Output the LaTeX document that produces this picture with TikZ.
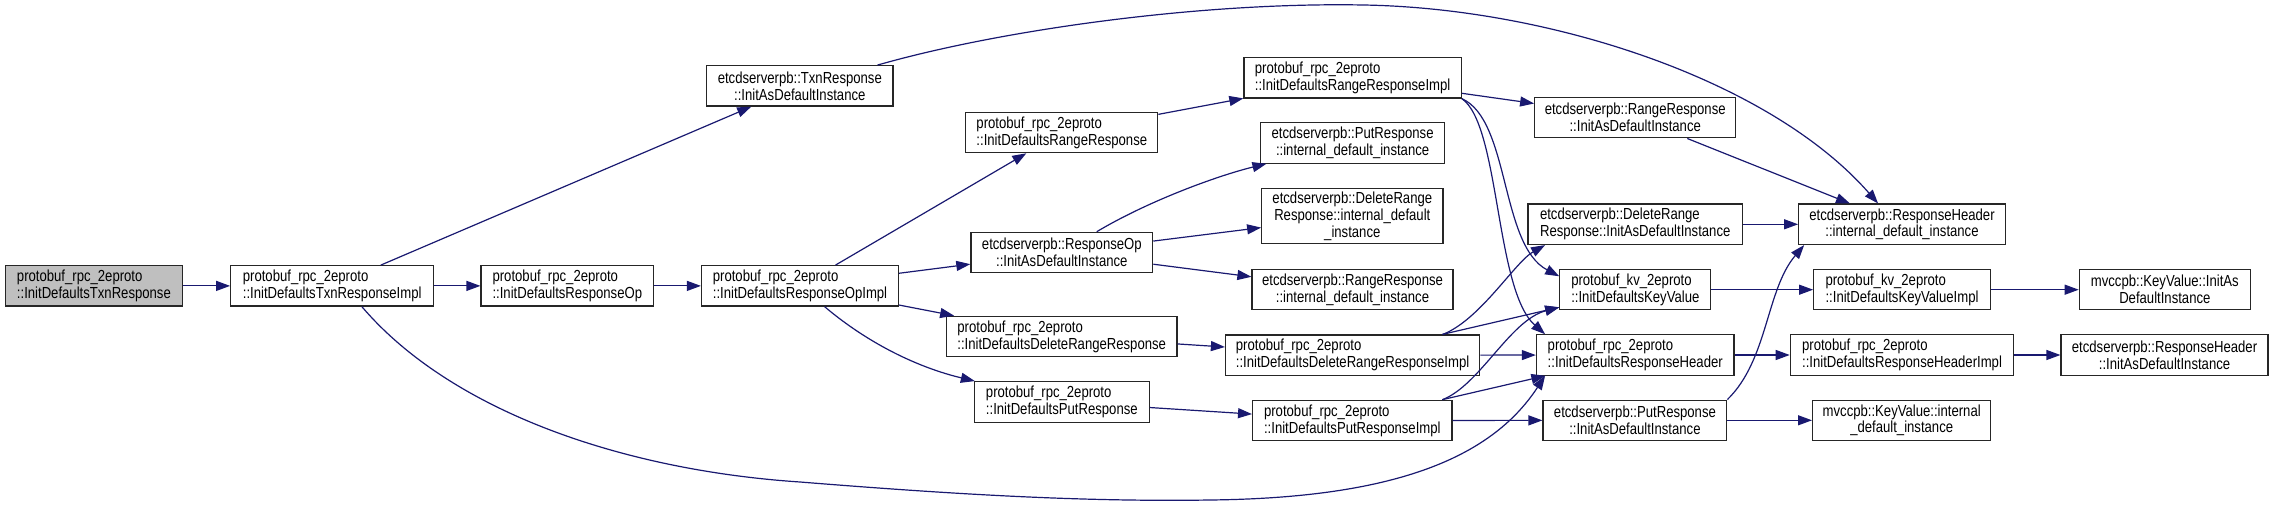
\documentclass[tikz,border=0pt]{standalone}
\usepackage{fontspec}
\setmainfont{Liberation Sans}
\newfontfamily\graphfont[FakeStretch=0.82]{Liberation Sans}
\usepackage{tikz}
\usetikzlibrary{arrows.meta}

\definecolor{edgeblue}{HTML}{191970}
\definecolor{curgray}{HTML}{BFBFBF}

\begin{document}
\begin{tikzpicture}[x=0.5pt, y=-0.5pt,
    fnbox/.style={draw=black!85, line width=0.6pt, fill=white, inner xsep=2pt, inner ysep=1.5pt, minimum height=20.2pt, font=\graphfont\fontsize{8}{7.4}\selectfont},
    lbox/.style={fnbox, align=left},
    cbox/.style={fnbox, align=center},
    calls/.style={draw=edgeblue, line width=0.6pt, -{Triangle[length=7pt,width=5pt]}}]
            \useasboundingbox (0,0) rectangle (2273,507);

            % Column 1 to 4
            \node (txnresp) [lbox, fill=curgray, minimum width=88.8pt] at (93.9,285.9) {protobuf\_rpc\_2eproto\\::InitDefaultsTxnResponse};
            \node (txnimpl) [lbox, minimum width=101.5pt] at (332.2,285.9) {protobuf\_rpc\_2eproto\\::InitDefaultsTxnResponseImpl};
            \node (respop) [lbox, minimum width=86.3pt] at (567.3,285.9) {protobuf\_rpc\_2eproto\\::InitDefaultsResponseOp};
            \node (respopimpl) [lbox, minimum width=98.5pt] at (800,285.9) {protobuf\_rpc\_2eproto\\::InitDefaultsResponseOpImpl};
            \node (txniadi) [cbox, minimum width=93.2pt] at (799.8,85.9) {etcdserverpb::TxnResponse\\::InitAsDefaultInstance};

            % Column 5
            \node (rangeresp) [lbox, minimum width=96pt] at (1061.8,132.5) {protobuf\_rpc\_2eproto\\::InitDefaultsRangeResponse};
            \node (opiadi) [cbox, minimum width=90.9pt] at (1061.8,252.5) {etcdserverpb::ResponseOp\\::InitAsDefaultInstance};
            \node (delresp) [lbox, minimum width=115.3pt] at (1061.7,336.5) {protobuf\_rpc\_2eproto\\::InitDefaultsDeleteRangeResponse};
            \node (putresp) [lbox, minimum width=87.3pt] at (1061.8,401.9) {protobuf\_rpc\_2eproto\\::InitDefaultsPutResponse};

            % Column 6
            \node (rangeimpl) [lbox, minimum width=108.7pt] at (1352.6,77.9) {protobuf\_rpc\_2eproto\\::InitDefaultsRangeResponseImpl};
            \node (putint) [cbox, minimum width=91.9pt] at (1352.6,143) {etcdserverpb::PutResponse\\::internal\_default\_instance};
            \node (delint) [cbox, minimum width=90.6pt, minimum height=27.5pt] at (1352.3,216.2) {etcdserverpb::DeleteRange\\Response::internal\_default\\\_instance};
            \node (rangeint) [cbox, minimum width=100.5pt] at (1352.5,289.7) {etcdserverpb::RangeResponse\\::internal\_default\_instance};
            \node (delimpl) [lbox, minimum width=127.1pt] at (1352.6,355.2) {protobuf\_rpc\_2eproto\\::InitDefaultsDeleteRangeResponseImpl};
            \node (putimpl) [lbox, minimum width=99.7pt] at (1352.3,420.5) {protobuf\_rpc\_2eproto\\::InitDefaultsPutResponseImpl};

            % Column 7
            \node (rangeiadi) [cbox, minimum width=100.5pt] at (1635.2,117.7) {etcdserverpb::RangeResponse\\::InitAsDefaultInstance};
            \node (deliadi) [lbox, minimum width=107.2pt] at (1635.2,224.3) {etcdserverpb::DeleteRange\\Response::InitAsDefaultInstance};
            \node (kv) [lbox, minimum width=75.5pt] at (1635.3,289.7) {protobuf\_kv\_2eproto\\::InitDefaultsKeyValue};
            \node (hdrinit) [lbox, minimum width=98.8pt] at (1635.2,355) {protobuf\_rpc\_2eproto\\::InitDefaultsResponseHeader};
            \node (putiadi) [cbox, minimum width=91.9pt] at (1634.9,420.3) {etcdserverpb::PutResponse\\::InitAsDefaultInstance};

            % Column 8 and 9
            \node (hdrint) [cbox, minimum width=103.3pt] at (1902,224.3) {etcdserverpb::ResponseHeader\\::internal\_default\_instance};
            \node (kvimpl) [lbox, minimum width=88.3pt] at (1902,289.7) {protobuf\_kv\_2eproto\\::InitDefaultsKeyValueImpl};
            \node (hdrimpl) [lbox, minimum width=111.7pt] at (1902,355) {protobuf\_rpc\_2eproto\\::InitDefaultsResponseHeaderImpl};
            \node (kvint) [cbox, minimum width=89.1pt] at (1901.7,420.3) {mvccpb::KeyValue::internal\\\_default\_instance};
            \node (kviadi) [cbox, minimum width=85.5pt] at (2164.8,289.7) {mvccpb::KeyValue::InitAs\\DefaultInstance};
            \node (hdriadi) [cbox, minimum width=103.5pt] at (2164.5,355) {etcdserverpb::ResponseHeader\\::InitAsDefaultInstance};

            % Straight calls
            \draw[calls] (txnresp) -- (txnimpl);
            \draw[calls] (txnimpl) -- (txniadi);
            \draw[calls] (txnimpl) -- (respop);
            \draw[calls] (respop) -- (respopimpl);
            \draw[calls] (respopimpl) -- (rangeresp);
            \draw[calls] (respopimpl) -- (opiadi);
            \draw[calls] (respopimpl) -- (delresp);
            \draw[calls] (rangeresp) -- (rangeimpl);
            \draw[calls] (opiadi) -- (delint);
            \draw[calls] (opiadi) -- (rangeint);
            \draw[calls] (delresp) -- (delimpl);
            \draw[calls] (putresp) -- (putimpl);
            \draw[calls] (rangeimpl) -- (rangeiadi);
            \draw[calls] (delimpl) -- (kv);
            \draw[calls] (delimpl) -- (hdrinit);
            \draw[calls] (putimpl) -- (hdrinit);
            \draw[calls] (putimpl) -- (putiadi);
            \draw[calls] (rangeiadi) -- (hdrint);
            \draw[calls] (deliadi) -- (hdrint);
            \draw[calls] (putiadi) -- (kvint);
            \draw[calls] (kv) -- (kvimpl);
            \draw[calls] (kvimpl) -- (kviadi);
            \draw[calls] (hdrinit) -- (hdrimpl);
            \draw[calls] (hdrimpl) -- (hdriadi);

            % Curved calls
            \draw[calls] (respopimpl) .. controls (870,345) and (920,368) .. (putresp);
            \draw[calls] (opiadi) .. controls (1150,200) and (1220,175) .. (putint);
            \draw[calls] (rangeimpl.south east) .. controls (1510,120) and (1500,245) .. (kv.170);
            \draw[calls] (rangeimpl.south east) .. controls (1500,125) and (1495,290) .. (hdrinit.167);
            \draw[calls] (delimpl.13) .. controls (1480,320) and (1515,262) .. (deliadi.193);
            \draw[calls] (putimpl.13) .. controls (1480,385) and (1510,320) .. (kv.193);
            \draw[calls] (putiadi.north east) .. controls (1768,360) and (1766,290) .. (hdrint.192);

            % Long calls over the top and under the bottom
            \draw[calls] (txniadi.15) .. controls (1000,30) and (1200,2) .. (1363,5) .. controls (1550,8) and (1770,80) .. (hdrint.139);
            \draw[calls] (txnimpl.-35) .. controls (450,410) and (620,470) .. (800,482) .. controls (950,494) and (1080,502) .. (1210,500) .. controls (1390,498) and (1490,460) .. (hdrinit.193);

        \end{tikzpicture}
\end{document}
